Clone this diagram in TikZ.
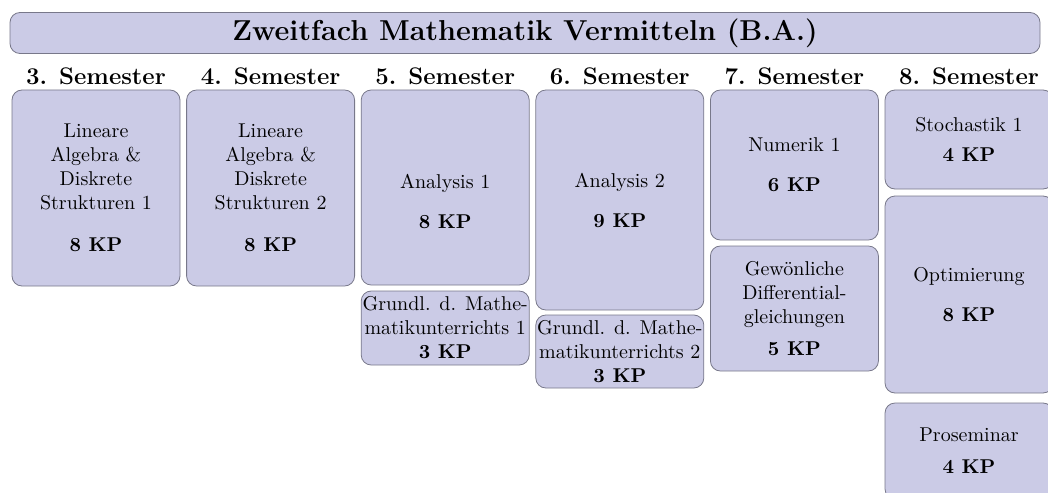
\documentclass[tikz,border=0pt]{standalone}
\usepackage{amsmath,amssymb}
\usepackage{xcolor}
\usepackage{tikz}
\usetikzlibrary{positioning,calc}
\definecolor{modulfill}{RGB}{203,203,230}
\definecolor{modulline}{RGB}{120,120,138}

\begin{document}
\begin{tikzpicture}[
    x=0.5pt, y=-0.5pt,
    every node/.style={font=\normalsize},
    modul/.style={draw=modulline, fill=modulfill, rounded corners=5pt, minimum width=84pt, inner sep=0pt, align=center},
    titlebar/.style={modul, minimum width=515pt, minimum height=20.5pt, font=\Large\bfseries},
    semlabel/.style={font=\large\bfseries, inner sep=0pt},
]
\useasboundingbox (0,0) rectangle (1048,492);
\clip (0,0) rectangle (1048,492);

\node[titlebar] (title) at (525,33) {Zweitfach Mathematik Vermitteln (B.A.)};

\foreach \n [count=\i from 0] in {3,...,8}
    \node[semlabel] (sem\n) at (96+174.6*\i,76) {\n. Semester};

\node[modul, minimum height=98pt] (linalg1) at (96,188) {Lineare\\Algebra \&\\Diskrete\\Strukturen 1\\[9pt]\textbf{8 KP}};
\node[modul, minimum height=98pt] (linalg2) at (270.6,188) {Lineare\\Algebra \&\\Diskrete\\Strukturen 2\\[9pt]\textbf{8 KP}};
\node[modul, minimum height=97.5pt] (ana1) at (445.2,187.5) {\mbox{}\\[9pt]Analysis 1\\[8pt]\textbf{8 KP}};
\node[modul, minimum height=37pt] (gdm1) at (445.2,328) {Grundl. d. Mathe-\\matikunterrichts 1\\\textbf{3 KP}};
\node[modul, minimum height=110pt] (ana2) at (619.8,200) {Analysis 2\\[8pt]\textbf{9 KP}};
\node[modul, minimum height=36.5pt] (gdm2) at (619.8,351.5) {Grundl. d. Mathe-\\matikunterrichts 2\\\textbf{3 KP}};
\node[modul, minimum height=75pt] (num1) at (794.4,165) {Numerik 1\\[8pt]\textbf{6 KP}};
\node[modul, minimum height=62.5pt] (dgl) at (794.4,308.5) {Gew\"onliche\\Differential-\\gleichungen\\[4pt]\textbf{5 KP}};
\node[modul, minimum height=49.5pt] (stoch1) at (969,139.5) {Stochastik 1\\[3pt]\textbf{4 KP}};
\node[modul, minimum height=98.5pt] (opt) at (969,294.5) {Optimierung\\[8pt]\textbf{8 KP}};
\node[modul, minimum height=48pt] (prosem) at (969,451) {Proseminar\\[4pt]\textbf{4 KP}};
\end{tikzpicture}
\end{document}
